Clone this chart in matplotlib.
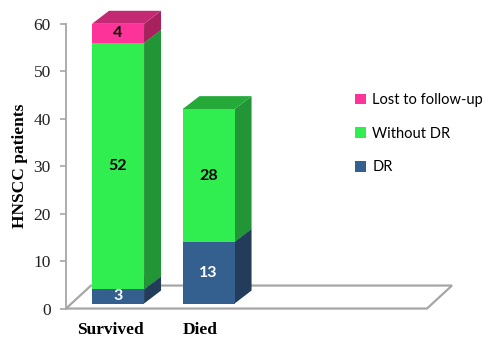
import numpy as np
import matplotlib
matplotlib.use("Agg")
import matplotlib.pyplot as plt
from matplotlib.patches import Polygon, Patch
from matplotlib.transforms import IdentityTransform, ScaledTranslation

# ── data ───────────────────────────────────────────────────────────────────
categories = ["Survived", "Died"]
series = ["DR", "Without DR", "Lost to follow-up"]
dr_vals = [3, 13]
without_dr_vals = [52, 28]
lost_vals = [4, 0]
yticks = [0, 10, 20, 30, 40, 50, 60]

VALUES = {"DR": dr_vals, "Without DR": without_dr_vals, "Lost to follow-up": lost_vals}

# ── colours (front / side / top faces) ─────────────────────────────────────
FRONT = {"DR": "#34608f", "Without DR": "#31ee50", "Lost to follow-up": "#fe3399"}
SIDE  = {"DR": "#223c5a", "Without DR": "#229636", "Lost to follow-up": "#a8215f"}
TOP   = {"DR": "#2a4e76", "Without DR": "#25aa3a", "Lost to follow-up": "#c42a73"}
TEXTC = {"DR": "white", "Without DR": "black", "Lost to follow-up": "black"}

SERIF = "Liberation Serif"
SANS = "Lato"

fig = plt.figure(figsize=(5, 3.51), dpi=100)
ax = fig.add_axes([0.132, 0.121, 0.722, 0.8105])
XL = (-0.575, 3.414)
ax.set_xlim(*XL)
ax.set_ylim(0, 60)

ident = IdentityTransform()
LIFT = 5                 # px bars sit above front floor edge
BAR_DEPTH = (17, 13)     # px
FLOOR_DEPTH = (25, 23)   # px
WIDTH = 0.575
lift_tr = ScaledTranslation(0, LIFT / 100, fig.dpi_scale_trans)

def disp(x, y):
    px, py = ax.transData.transform((x, y))
    return px, py + LIFT

# ── floor ──────────────────────────────────────────────────────────────────
fx0, fy = ax.transData.transform((XL[0], 0))
fx1, _ = ax.transData.transform((XL[1], 0))
dx, dy = FLOOR_DEPTH
ax.add_patch(Polygon([(fx0, fy), (fx1, fy), (fx1 + dx, fy + dy), (fx0 + dx, fy + dy)],
                     closed=True, fc="white", ec="#a6a6a6", lw=1.6,
                     transform=ident, zorder=1, clip_on=False))

# ── bars ───────────────────────────────────────────────────────────────────
x = np.arange(len(categories))
bottom = np.zeros(len(categories))
bdx, bdy = BAR_DEPTH
for s in series:
    vals = np.array(VALUES[s], dtype=float)
    bars = ax.bar(x, vals, WIDTH, bottom=bottom, color=FRONT[s], lw=0, zorder=3)
    for b in bars:
        b.set_transform(ax.transData + lift_tr)
        b.set_clip_on(False)
    for i, v in enumerate(vals):
        if v <= 0:
            continue
        xl, xr = x[i] - WIDTH / 2, x[i] + WIDTH / 2
        yb, yt = bottom[i], bottom[i] + v
        p_rb = disp(xr, yb); p_rt = disp(xr, yt); p_lt = disp(xl, yt)
        side = [p_rb, p_rt, (p_rt[0] + bdx, p_rt[1] + bdy), (p_rb[0] + bdx, p_rb[1] + bdy)]
        ax.add_patch(Polygon(side, closed=True, fc=SIDE[s], lw=0,
                             transform=ident, zorder=2, clip_on=False))
        top = [p_lt, p_rt, (p_rt[0] + bdx, p_rt[1] + bdy), (p_lt[0] + bdx, p_lt[1] + bdy)]
        ax.add_patch(Polygon(top, closed=True, fc=TOP[s], lw=0,
                             transform=ident, zorder=2, clip_on=False))
        ax.text(x[i], yb + v / 2, f"{int(v)}", transform=ax.transData + lift_tr,
                ha="center", va="center", fontsize=11.5, fontweight="bold",
                family=SANS, color=TEXTC[s], zorder=5)
    bottom += vals

# ── axes styling ───────────────────────────────────────────────────────────
for sp in ["top", "right", "bottom"]:
    ax.spines[sp].set_visible(False)
ax.spines["left"].set_color("#a6a6a6")
ax.spines["left"].set_linewidth(1.3)
ax.set_yticks(yticks)
ax.set_yticklabels([str(t) for t in yticks], family=SERIF, fontsize=12.5, color="#222222")
ax.tick_params(axis="y", length=4, color="#a6a6a6", width=1.2, pad=7)
ax.set_xticks(x)
ax.set_xticklabels(categories, family=SERIF, fontsize=12.5, fontweight="bold")
ax.tick_params(axis="x", length=0, pad=10)
shift = ScaledTranslation(-8 / 100, 0, fig.dpi_scale_trans)
for lab in ax.get_xticklabels():
    lab.set_transform(lab.get_transform() + shift)

ax.set_ylabel("HNSCC patients", family=SERIF, fontsize=12.5, fontweight="bold")
ax.yaxis.set_label_coords(-0.106, 0.5)

# ── legend ─────────────────────────────────────────────────────────────────
handles = [Patch(facecolor=FRONT[s], lw=0, label=s) for s in reversed(series)]
fig.legend(handles=handles, loc="upper left", bbox_to_anchor=(355 / 500, (351 - 93) / 351),
           frameon=False, borderpad=0, borderaxespad=0, handlelength=0.75, handleheight=0.75,
           handletextpad=0.45, labelspacing=1.35, prop={"family": SANS, "size": 10.5})

fig.savefig("out.png", dpi=100)
